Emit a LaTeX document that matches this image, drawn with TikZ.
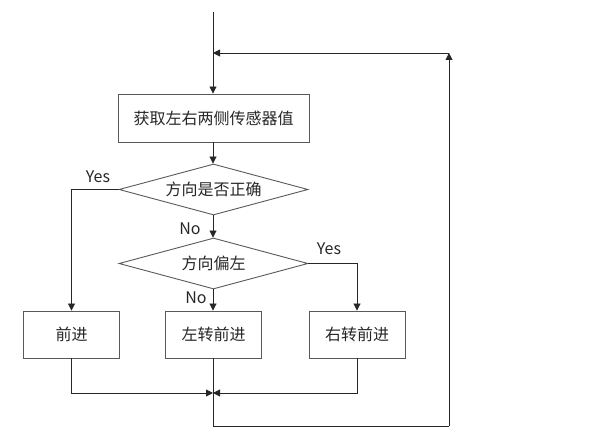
\documentclass[tikz,border=0pt]{standalone}
\usepackage{fontspec}
\setmainfont{Noto Sans CJK SC}
\usetikzlibrary{shapes.geometric,arrows.meta}
\begin{document}
\begin{tikzpicture}[x=1bp,y=-1bp,
  every node/.style={text=black!85, font=\fontsize{16bp}{19bp}\selectfont},
  procbox/.style={draw=black!65, line width=0.9bp, rectangle, inner sep=0pt},
  decide/.style={draw=black!65, line width=0.9bp, diamond, inner sep=0pt,
    shape aspect=3.7, minimum width=189bp, minimum height=51bp},
  lbl/.style={font=\fontsize{16bp}{19bp}\selectfont, inner sep=0pt},
  conn/.style={draw=black!85, line width=0.9bp},
  arr/.style={conn, -{Triangle[length=7bp,width=7bp]}}]
\useasboundingbox (0,0) rectangle (612,448);
\coordinate (start) at (213,12);
\coordinate (j1) at (213,53);
\node[procbox, minimum width=191bp, minimum height=48bp] (read) at (213.5,118) {获取左右两侧传感器值};
\node[decide] (d1) at (213.5,189.5) {方向是否正确};
\node[decide] (d2) at (213.5,263.5) {方向偏左};
\node[procbox, minimum width=96bp, minimum height=47bp] (fwd) at (71.5,334.5) {前进};
\node[procbox, minimum width=96bp, minimum height=47bp] (left) at (213.5,334.5) {左转前进};
\node[procbox, minimum width=96bp, minimum height=47bp] (right) at (357,334.5) {右转前进};
\coordinate (m) at (213,393);
\coordinate (b) at (213,426);
\coordinate (br) at (449,426);
\coordinate (tr) at (449,53);
% connectors
\draw[arr] (start) -- (read.north -| start);
\draw[arr] (read.south -| start) -- (d1.north -| start);
\draw[arr] (d1.west) -| (fwd.north);
\draw[arr] (d1.south -| start) -- (d2.north -| start);
\draw[arr] (d2.east) -| (right.north);
\draw[arr] (d2.south -| start) -- (left.north -| start);
\draw[arr] (fwd.south) |- (m);
\draw[arr] (right.south) |- (m);
\draw[conn] (left.south -| start) -- (b) -- (br);
\draw[arr] (br) -- (tr);
\draw[arr] (tr) -- (j1);
% labels
\node[lbl] (y1) at (98,177) {Yes};
\node[lbl] (n1) at (190,229) {No};
\node[lbl] (y2) at (329,249) {Yes};
\node[lbl] (n2) at (196,298) {No};
\end{tikzpicture}
\end{document}
